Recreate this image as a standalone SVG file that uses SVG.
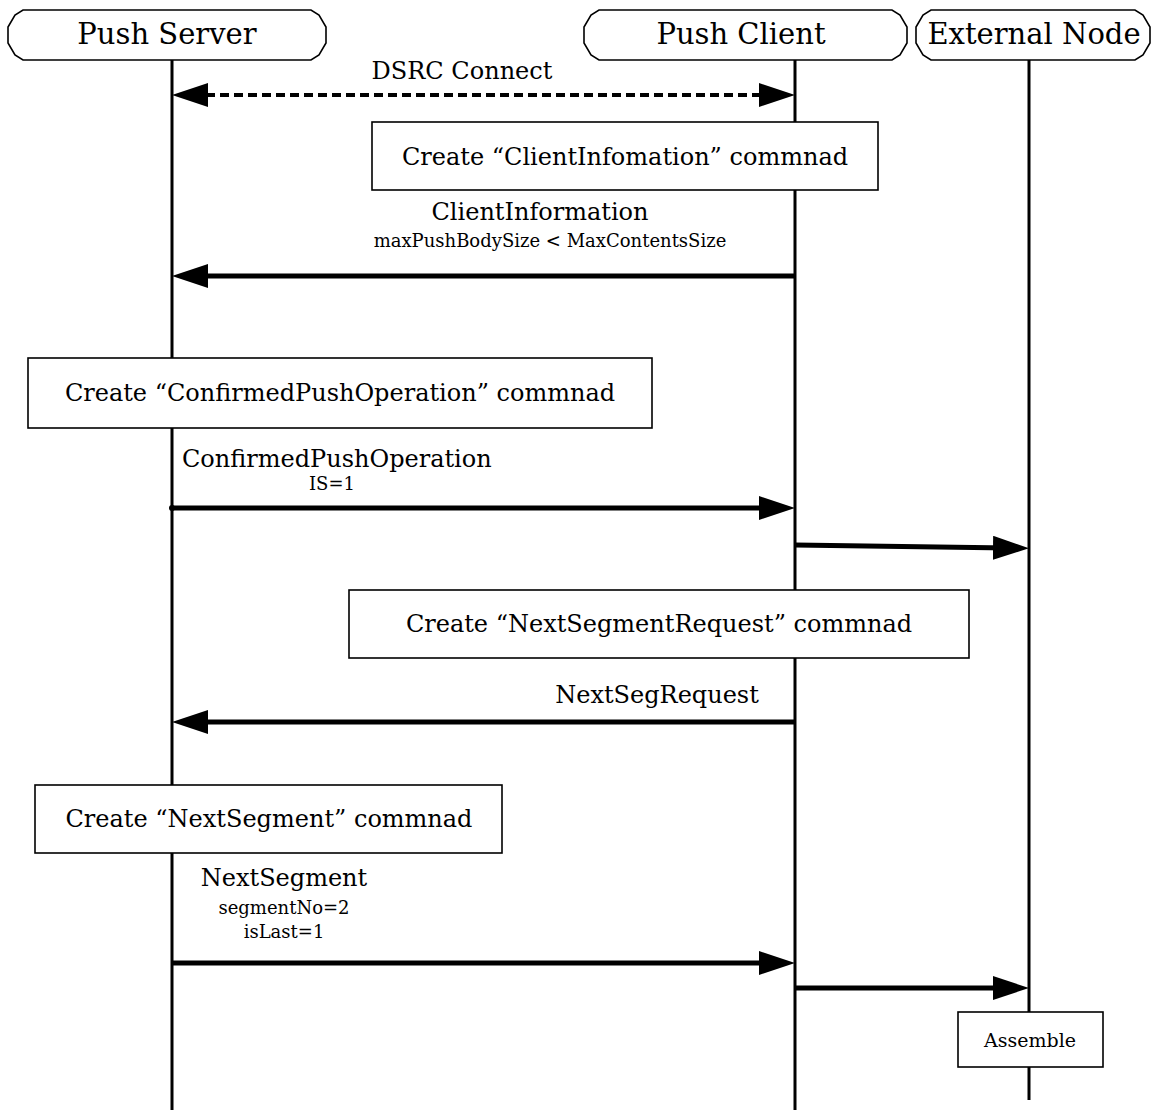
<svg xmlns="http://www.w3.org/2000/svg" width="1159" height="1113" viewBox="0 0 1159 1113">
  <style>
    text { font-family: "DejaVu Serif", "Liberation Serif", serif; fill: #000; }
    .head { font-size: 29px; text-anchor: middle; }
    .lbl { font-size: 24px; }
    .mid { text-anchor: middle; }
    .small { font-size: 18px; text-anchor: middle; }
    .frame { fill: #fff; stroke: #000; stroke-width: 1.6; }
    .life { stroke: #000; stroke-width: 3; fill: none; }
    .msg { stroke: #000; stroke-width: 5; fill: none; marker-end: url(#head); }
    .dash { stroke: #000; stroke-width: 4; fill: none; stroke-dasharray: 9 5; marker-start: url(#head); marker-end: url(#head); }
  </style>
  <defs>
    <marker id="head" markerUnits="userSpaceOnUse" markerWidth="36" markerHeight="24" viewBox="0 0 36 24" refX="16" refY="12" orient="auto-start-reverse">
      <path d="M0,0 L36,12 L0,24 Z" fill="#000"/>
    </marker>
  </defs>

  <!-- lifelines -->
  <g id="lifelines">
    <line class="life" x1="172" y1="60" x2="172" y2="1110"/>
    <line class="life" x1="795" y1="60" x2="795" y2="1110"/>
    <line class="life" x1="1029" y1="60" x2="1029" y2="1100"/>
  </g>

  <!-- participants -->
  <g id="push-server">
    <path class="frame" d="M23,10 L311,10 L319,15 L326,27 L326,43 L319,55 L311,60 L23,60 L15,55 L8,43 L8,27 L15,15 Z"/>
    <text class="head" x="167" y="44">Push Server</text>
  </g>
  <g id="push-client">
    <path class="frame" d="M599,10 L892,10 L900,15 L907,27 L907,43 L900,55 L892,60 L599,60 L591,55 L584,43 L584,27 L591,15 Z"/>
    <text class="head" x="741" y="44">Push Client</text>
  </g>
  <g id="external-node">
    <path class="frame" d="M931,10 L1135,10 L1143,15 L1150,27 L1150,43 L1143,55 L1135,60 L931,60 L923,55 L916,43 L916,27 L923,15 Z"/>
    <text class="head" x="1034" y="44">External Node</text>
  </g>

  <!-- activity boxes -->
  <g id="create-client-info">
    <rect class="frame" x="372" y="122" width="506" height="68"/>
    <text class="lbl mid" x="625" y="165">Create “ClientInfomation” commnad</text>
  </g>
  <g id="create-confirmed-push">
    <rect class="frame" x="28" y="358" width="624" height="70"/>
    <text class="lbl mid" x="340" y="401">Create “ConfirmedPushOperation” commnad</text>
  </g>
  <g id="create-next-seg-request">
    <rect class="frame" x="349" y="590" width="620" height="68"/>
    <text class="lbl mid" x="659" y="632">Create “NextSegmentRequest” commnad</text>
  </g>
  <g id="create-next-segment">
    <rect class="frame" x="35" y="785" width="467" height="68"/>
    <text class="lbl mid" x="269" y="827">Create “NextSegment” commnad</text>
  </g>
  <g id="assemble">
    <rect class="frame" x="958" y="1012" width="145" height="55"/>
    <text class="mid" x="1030" y="1047" font-size="19">Assemble</text>
  </g>

  <!-- messages -->
  <g id="connectors">
    <line class="dash" x1="192" y1="95" x2="775" y2="95"/>
    <line class="msg" x1="795" y1="276" x2="192" y2="276"/>
    <line class="msg" x1="172" y1="508" x2="775" y2="508"/>
    <circle cx="172" cy="508" r="3"/>
    <line class="msg" x1="795" y1="545" x2="1009" y2="548"/>
    <line class="msg" x1="795" y1="722" x2="192" y2="722"/>
    <line class="msg" x1="172" y1="963" x2="775" y2="963"/>
    <line class="msg" x1="795" y1="988" x2="1009" y2="988"/>
  </g>

  <!-- message labels -->
  <g id="labels">
    <text class="lbl mid" x="462" y="79">DSRC Connect</text>
    <text class="lbl mid" x="540" y="220">ClientInformation</text>
    <text class="small" x="550" y="247">maxPushBodySize &lt; MaxContentsSize</text>
    <text class="lbl" x="182" y="467">ConfirmedPushOperation</text>
    <text class="small" x="332" y="490">IS=1</text>
    <text class="lbl mid" x="657" y="703">NextSegRequest</text>
    <text class="lbl mid" x="284" y="886">NextSegment</text>
    <text class="small" x="284" y="914">segmentNo=2</text>
    <text class="small" x="284" y="938">isLast=1</text>
  </g>
</svg>
